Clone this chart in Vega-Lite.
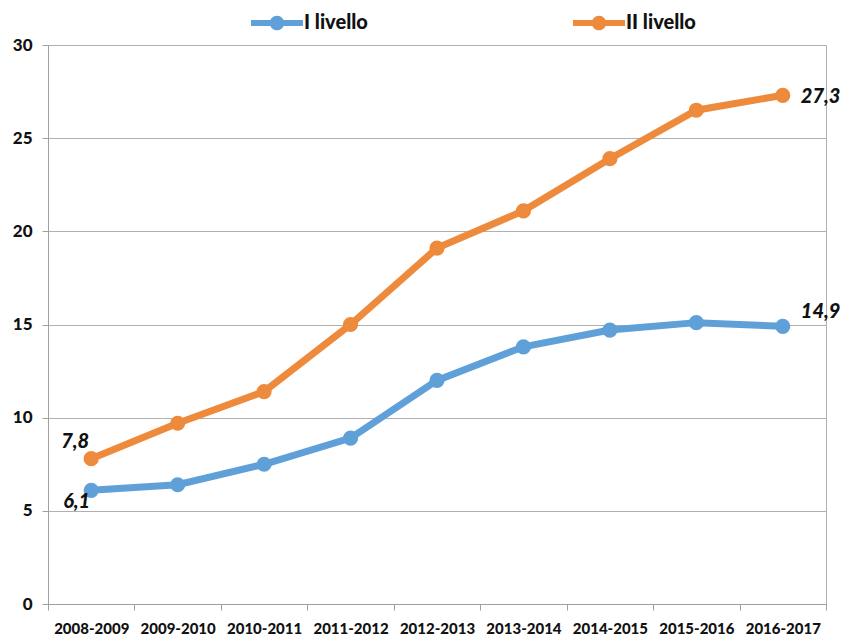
{
  "$schema": "https://vega.github.io/schema/vega-lite/v6.json",
  "width": 778,
  "height": 559,
  "autosize": {"type": "none"},
  "padding": {"left": 48, "top": 45, "right": 19, "bottom": 35},
  "config": {
    "locale": {"number": {"decimal": ",", "thousands": ".", "grouping": [3], "currency": ["€", ""]}},
    "view": {"stroke": "#b0b0b0", "strokeWidth": 1},
    "font": "Lato"
  },
  "data": {
    "values": [
      {"anno": "2008-2009", "serie": "I livello", "valore": 6.1},
      {"anno": "2009-2010", "serie": "I livello", "valore": 6.4},
      {"anno": "2010-2011", "serie": "I livello", "valore": 7.5},
      {"anno": "2011-2012", "serie": "I livello", "valore": 8.9},
      {"anno": "2012-2013", "serie": "I livello", "valore": 12.0},
      {"anno": "2013-2014", "serie": "I livello", "valore": 13.8},
      {"anno": "2014-2015", "serie": "I livello", "valore": 14.7},
      {"anno": "2015-2016", "serie": "I livello", "valore": 15.1},
      {"anno": "2016-2017", "serie": "I livello", "valore": 14.9},
      {"anno": "2008-2009", "serie": "II livello", "valore": 7.8},
      {"anno": "2009-2010", "serie": "II livello", "valore": 9.7},
      {"anno": "2010-2011", "serie": "II livello", "valore": 11.4},
      {"anno": "2011-2012", "serie": "II livello", "valore": 15.0},
      {"anno": "2012-2013", "serie": "II livello", "valore": 19.1},
      {"anno": "2013-2014", "serie": "II livello", "valore": 21.1},
      {"anno": "2014-2015", "serie": "II livello", "valore": 23.9},
      {"anno": "2015-2016", "serie": "II livello", "valore": 26.5},
      {"anno": "2016-2017", "serie": "II livello", "valore": 27.3}
    ]
  },
  "encoding": {
    "x": {
      "field": "anno", "type": "nominal",
      "scale": {"paddingInner": 0, "paddingOuter": 0},
      "axis": {
        "title": null, "labelAngle": 0, "labelFont": "Lato", "labelFontSize": 15, "labelFontWeight": 900,
        "labelColor": "#111", "labelPadding": 11, "tickBand": "extent", "tickSize": 6,
        "tickColor": "#a0a0a0", "domainColor": "#a0a0a0", "grid": false
      }
    },
    "y": {
      "field": "valore", "type": "quantitative",
      "scale": {"domain": [0, 30]},
      "axis": {
        "title": null, "values": [0, 5, 10, 15, 20, 25, 30], "labelFont": "Lato", "labelFontSize": 17,
        "labelFontWeight": 900, "labelColor": "#111", "labelPadding": 10, "tickSize": 6,
        "tickColor": "#a0a0a0", "domainColor": "#a0a0a0", "gridColor": "#b0b0b0", "format": "d"
      }
    }
  },
  "layer": [
    {
      "mark": {"type": "line", "strokeWidth": 7, "point": {"size": 230, "filled": true, "opacity": 1}},
      "encoding": {
        "color": {
          "field": "serie", "type": "nominal",
          "scale": {"domain": ["I livello", "II livello"], "range": ["#5fa0d8", "#ee8a3c"]},
          "legend": {
            "title": null, "orient": "none", "direction": "horizontal", "legendX": 203, "legendY": -48,
            "columnPadding": 205, "labelFont": "Lato", "labelFontSize": 20, "labelFontWeight": 900,
            "labelColor": "#111", "labelOffset": 1,
            "symbolType": "M-1,-0.12H1V0.12H-1Z M-0.28,0A0.28,0.28 0 1,1 0.28,0A0.28,0.28 0 1,1 -0.28,0Z",
            "symbolSize": 2704, "symbolStrokeWidth": 0
          }
        }
      }
    },
    {
      "transform": [{"filter": "datum.serie == 'II livello' && datum.anno == '2008-2009'"}],
      "mark": {"type": "text", "font": "Lato", "fontSize": 20, "fontWeight": 900, "fontStyle": "italic", "align": "right", "dx": -2, "dy": -17, "color": "#111"},
      "encoding": {"text": {"field": "valore", "type": "quantitative", "format": ".1f"}}
    },
    {
      "transform": [{"filter": "datum.serie == 'I livello' && datum.anno == '2008-2009'"}],
      "mark": {"type": "text", "font": "Lato", "fontSize": 20, "fontWeight": 900, "fontStyle": "italic", "align": "right", "dx": -1, "dy": 12, "color": "#111"},
      "encoding": {"text": {"field": "valore", "type": "quantitative", "format": ".1f"}}
    },
    {
      "transform": [{"filter": "datum.serie == 'II livello' && datum.anno == '2016-2017'"}],
      "mark": {"type": "text", "font": "Lato", "fontSize": 20, "fontWeight": 900, "fontStyle": "italic", "align": "left", "dx": 18, "dy": 2, "color": "#111"},
      "encoding": {"text": {"field": "valore", "type": "quantitative", "format": ".1f"}}
    },
    {
      "transform": [{"filter": "datum.serie == 'I livello' && datum.anno == '2016-2017'"}],
      "mark": {"type": "text", "font": "Lato", "fontSize": 20, "fontWeight": 900, "fontStyle": "italic", "align": "left", "dx": 18, "dy": -14, "color": "#111"},
      "encoding": {"text": {"field": "valore", "type": "quantitative", "format": ".1f"}}
    }
  ]
}
